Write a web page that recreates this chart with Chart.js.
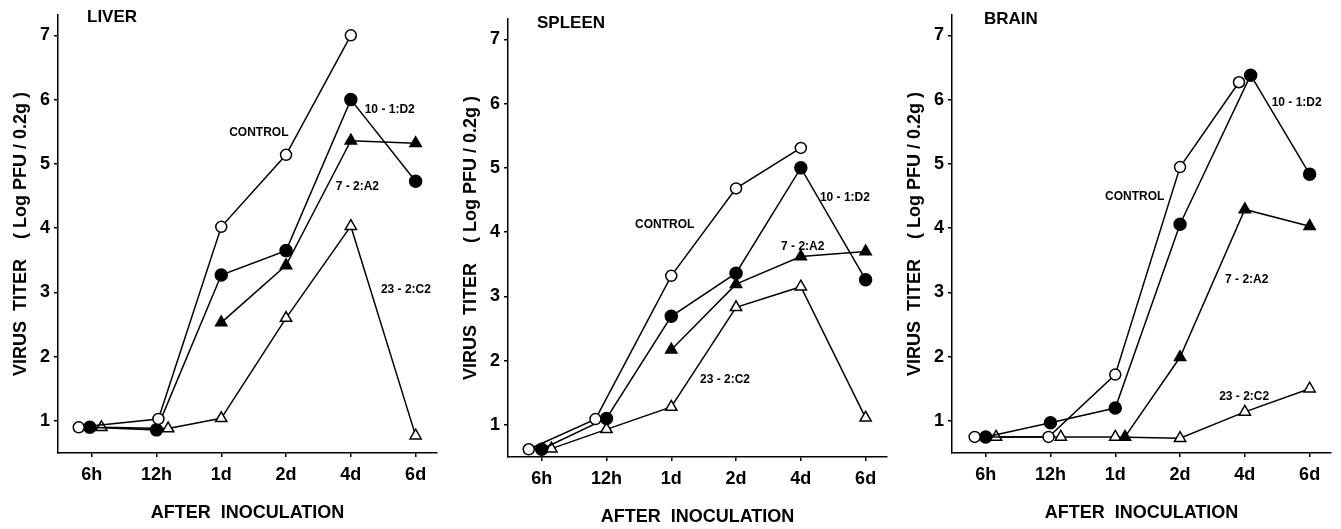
<!DOCTYPE html>
<html>
<head>
<meta charset="utf-8">
<script src="https://cdn.jsdelivr.net/npm/chart.js@4"></script>
<style>
  body { margin: 0; background: #fff; }
  .panel { position: absolute; top: 0; width: 447px; height: 529px; }
</style>
</head>
<body>
<div class="panel" style="left:0px"><canvas id="liver" width="447" height="529"></canvas></div>
<div class="panel" style="left:450px;top:4px"><canvas id="spleen" width="447" height="529"></canvas></div>
<div class="panel" style="left:894px"><canvas id="brain" width="447" height="529"></canvas></div>
<script>
// shared axis data
const xLabels = ['6h', '12h', '1d', '2d', '4d', '6d'];
const yTicks = [1, 2, 3, 4, 5, 6, 7];
const seriesNames = ['CONTROL', '10 - 1:D2', '7 - 2:A2', '23 - 2:C2'];

// liver
const liverControl = [0.9, 1.03, 4.02, 5.14, 7.0, null];
const liverD2 = [0.9, 0.86, 3.27, 3.65, 6.0, 4.73];
const liverA2 = [null, null, 2.53, 3.42, 5.36, 5.32];
const liverC2 = [0.9, 0.88, 1.04, 2.6, 4.03, 0.77];

// spleen
const spleenControl = [0.62, 1.09, 3.32, 4.68, 5.31, null];
const spleenD2 = [0.62, 1.1, 2.69, 3.36, 5.0, 3.26];
const spleenA2 = [null, null, 2.17, 3.19, 3.62, 3.7];
const spleenC2 = [0.63, 0.93, 1.28, 2.83, 3.15, 1.11];

// brain
const brainControl = [0.75, 0.75, 1.72, 4.95, 6.27, null];
const brainD2 = [0.75, 0.97, 1.2, 4.06, 6.38, 4.84];
const brainA2 = [null, null, 0.75, 1.99, 4.29, 4.03];
const brainC2 = [0.75, 0.75, 0.75, 0.73, 1.14, 1.5];

// small sideways shifts so overlapping symbols stay visible (layout only)
const Z = [0, 0, 0, 0, 0, 0];
const liverShift = [[-0.2, 0.03, 0, 0, 0, 0], [-0.03, 0, 0, 0, 0, 0], Z, [0.15, 0.18, 0, 0, 0, 0]];
const spleenShift = [[-0.2, -0.17, 0, 0, 0, 0], Z, Z, [0.15, 0, 0, 0, 0, 0]];
const brainShift = [[-0.17, -0.03, 0, 0, -0.09, 0], [0, 0, 0, 0, 0.09, 0], [0, 0, 0.15, 0, 0, 0], [0.16, 0.16, 0, 0, 0, 0]];

// where the series names sit, in data units
const liverNotes = [[2.58, 5.49], [4.6, 5.84], [4.1, 4.64], [4.85, 3.04]];
const spleenNotes = [[1.9, 4.11], [4.68, 4.54], [4.03, 3.78], [2.83, 1.71]];
const brainNotes = [[2.3, 4.49], [4.8, 5.95], [4.03, 3.19], [3.99, 1.38]];

const styles = [
  { pointStyle: 'circle', fill: '#fff', radius: 5.5 },
  { pointStyle: 'circle', fill: '#000', radius: 6 },
  { pointStyle: 'triangle', fill: '#000', radius: 6.5 },
  { pointStyle: 'triangle', fill: '#fff', radius: 6.5 }
];

const FONT = '"Liberation Sans", Arial, Helvetica, sans-serif';

function toPoints(values, shift) {
  return values.map((v, i) => ({ x: i + shift[i], y: v }));
}

const notesPlugin = {
  id: 'notes',
  afterDatasetsDraw(chart, args, opts) {
    const ctx = chart.ctx;
    const xs = chart.scales.x, ys = chart.scales.y;
    ctx.save();
    ctx.fillStyle = '#000';
    ctx.font = 'bold 17px ' + FONT;
    ctx.textAlign = 'left';
    ctx.textBaseline = 'middle';
    ctx.fillText(opts.name, chart.chartArea.left + opts.nameDx, opts.nameY);
    ctx.font = 'bold 12px ' + FONT;
    ctx.textAlign = 'center';
    opts.notes.forEach((n, i) => {
      ctx.fillText(seriesNames[i], xs.getPixelForValue(n[0]), ys.getPixelForValue(n[1]));
    });
    ctx.restore();
  }
};

function makePanel(id, name, series, shifts, notes, nameDx, nameY) {
  const datasets = series.map((vals, i) => ({
    label: seriesNames[i],
    data: toPoints(vals, shifts[i]),
    borderColor: '#000',
    borderWidth: 1.5,
    pointStyle: styles[i].pointStyle,
    pointRadius: styles[i].radius,
    pointHoverRadius: styles[i].radius,
    pointBackgroundColor: styles[i].fill,
    pointBorderColor: '#000',
    pointBorderWidth: 1.5,
    showLine: true,
    spanGaps: false,
    tension: 0
  }));

  new Chart(document.getElementById(id), {
    type: 'scatter',
    data: { datasets: datasets },
    plugins: [notesPlugin],
    options: {
      responsive: false,
      animation: false,
      layout: { padding: { top: 8, right: 10, left: 0, bottom: 0 } },
      plugins: {
        legend: { display: false },
        tooltip: { enabled: false },
        notes: { name: name, notes: notes, nameDx: nameDx, nameY: nameY }
      },
      scales: {
        x: {
          type: 'linear',
          min: -0.52,
          max: 5.33,
          afterBuildTicks: s => { s.ticks = xLabels.map((l, i) => ({ value: i })); },
          afterFit: s => { s.height = 76; },
          ticks: {
            color: '#000',
            padding: 7,
            font: { family: FONT, size: 18, weight: 'bold' },
            callback: v => xLabels[v]
          },
          grid: { drawOnChartArea: false, drawTicks: true, tickLength: 4, color: '#000', lineWidth: 1.5 },
          border: { color: '#000', width: 1.5 },
          title: {
            display: true,
            text: 'AFTER  INOCULATION',
            color: '#000',
            font: { family: FONT, size: 18, weight: 'bold' },
            padding: { top: 6, bottom: 5 }
          }
        },
        y: {
          min: 0.5,
          max: 7.32,
          afterBuildTicks: s => { s.ticks = yTicks.map(v => ({ value: v })); },
          afterFit: s => { s.width = 58; },
          ticks: {
            color: '#000',
            padding: 4,
            font: { family: FONT, size: 18, weight: 'bold' }
          },
          grid: { drawOnChartArea: false, drawTicks: true, tickLength: 4, color: '#000', lineWidth: 1.5 },
          border: { color: '#000', width: 1.5 },
          title: {
            display: true,
            text: 'VIRUS  TITER    ( Log PFU / 0.2g )',
            color: '#000',
            font: { family: FONT, size: 18, weight: 'bold' },
            padding: { top: 10, bottom: 0 }
          }
        }
      }
    }
  });
}

makePanel('liver', 'LIVER', [liverControl, liverD2, liverA2, liverC2], liverShift, liverNotes, 29, 17);
makePanel('spleen', 'SPLEEN', [spleenControl, spleenD2, spleenA2, spleenC2], spleenShift, spleenNotes, 29, 19);
makePanel('brain', 'BRAIN', [brainControl, brainD2, brainA2, brainC2], brainShift, brainNotes, 32, 19);
</script>
</body>
</html>
